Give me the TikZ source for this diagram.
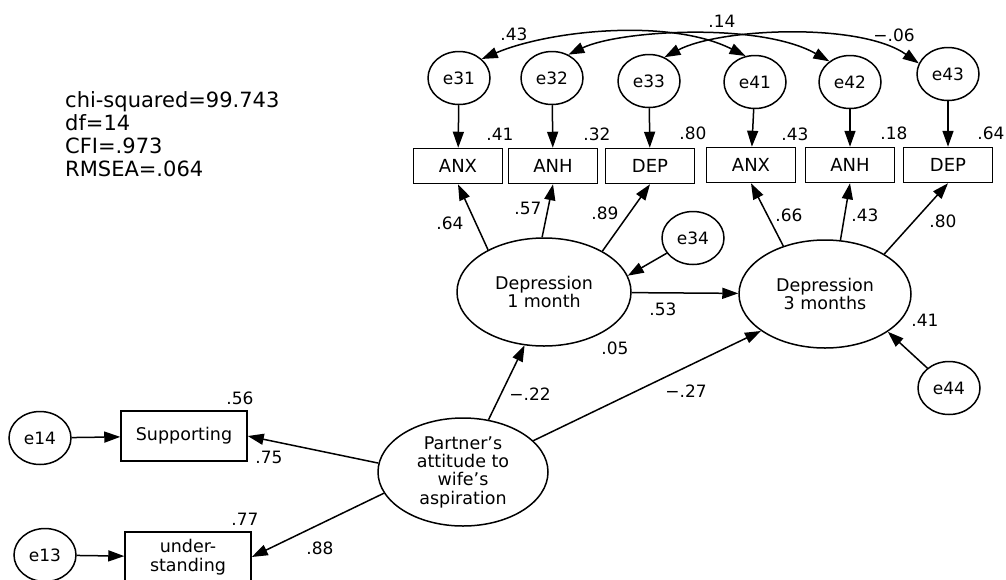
\documentclass[tikz,border=0pt]{standalone}
\usepackage{fontspec}
\setmainfont{DejaVu Sans}
\usetikzlibrary{shapes.geometric,arrows.meta}

\begin{document}
\begin{tikzpicture}[x=1pt,y=-1pt,
  lw/.style={line width=1.5pt},
  errv/.style={ellipse, draw, lw, minimum width=62pt, minimum height=53pt,
    inner sep=0pt, font=\fontsize{17}{18}\selectfont},
  latent/.style={ellipse, draw, lw, inner sep=0pt, align=center,
    font=\fontsize{17.5}{18}\selectfont},
  obs/.style={rectangle, draw, lw, minimum width=89pt, minimum height=35pt,
    inner sep=0pt, font=\fontsize{18}{19}\selectfont},
  reg/.style={lw, -{Triangle[length=16pt,width=11pt]}},
  cov/.style={lw, {Triangle[length=16pt,width=11pt]}-{Triangle[length=16pt,width=11pt]}},
  coef/.style={font=\fontsize{17}{17}\selectfont, inner sep=0pt},
  stat/.style={font=\fontsize{21}{23}\selectfont, inner sep=0pt, anchor=base west}
]
\clip (0,0) rectangle (1006,579);
\fill[white] (0,0) rectangle (1006,579);

% fit statistics
\node[stat] (s1) at (65,107) {chi-squared=99.743};
\node[stat] (s2) at (65,130) {df=14};
\node[stat] (s3) at (65,153) {CFI=.973};
\node[stat] (s4) at (65,176) {RMSEA=.064};

% error terms of the indicators
\node[errv] (e31) at (459,78) {e31};
\node[errv] (e32) at (552,78) {e32};
\node[errv] (e33) at (649,81) {e33};
\node[errv] (e41) at (755,82) {e41};
\node[errv] (e42) at (850,82) {e42};
\node[errv] (e43) at (948,74) {e43};

% indicators
\node[obs] (anx1) at (458,166) {ANX};
\node[obs] (anh1) at (553,166) {ANH};
\node[obs] (dep1) at (650,166) {DEP};
\node[obs] (anx2) at (751,165) {ANX};
\node[obs] (anh2) at (850,165) {ANH};
\node[obs] (dep2) at (948,165) {DEP};

% latent variables
\node[latent, minimum width=174pt, minimum height=108pt] (d1) at (544,292) {Depression\\1 month};
\node[latent, minimum width=172pt, minimum height=108pt] (d2) at (825,294) {Depression\\3 months};
\node[latent, minimum width=170pt, minimum height=108pt, font=\fontsize{17.5}{18.3}\selectfont] (pa) at (463,472)
  {Partner’s\\attitude to\\wife’s\\aspiration};
\node[errv] (e34) at (693,238) {e34};
\node[errv] (e44) at (949,388) {e44};

% partner indicators
\node[obs, minimum width=126pt, minimum height=50pt, font=\fontsize{17.5}{19}\selectfont] (sup) at (184,436) {Supporting};
\node[obs, minimum width=126pt, minimum height=50pt, align=center, font=\fontsize{17.5}{19}\selectfont] (und) at (188,557) {under-\\standing};
\node[errv] (e14) at (40,438) {e14};
\node[errv] (e13) at (45,555) {e13};

% error paths
\draw[reg] (e31) -- (anx1);
\draw[reg] (e32) -- (anh1);
\draw[reg] (e33) -- (dep1);
\draw[reg] (e41) -- (anx2);
\draw[reg] (e42) -- (anh2);
\draw[reg] (e43) -- (dep2);
\draw[reg] (e34) -- (d1.11);
\draw[reg] (e44) -- (d2.-31);
\draw[reg] (e14) -- (sup);
\draw[reg] (e13) -- (und);

% loadings
\draw[reg] (d1.143) -- (anx1.south);
\draw[reg] (d1.92) -- (anh1.south);
\draw[reg] (d1.35) -- (dep1.south);
\draw[reg] (d2.131) -- (anx2.south);
\draw[reg] (d2.74) -- (anh2.south);
\draw[reg] (d2.34) -- (dep2.south);
\draw[reg] (pa.174) -- (sup.east);
\draw[reg] (pa.195) -- (und.east);

% structural paths
\draw[reg] (d1) -- (d2);
\draw[reg] (pa.64) -- (d1.250);
\draw[reg] (pa.24) -- (d2.210);

% error covariances
\draw[cov] (e31.40) .. controls (550,30) and (670,18) .. (e41.110);
\draw[cov] (e32.55) .. controls (620,30) and (760,22) .. (e42.135);
\draw[cov] (e33.57) .. controls (720,28) and (860,22) .. (e43.160);

% coefficients
\node[coef] (c1) at (514,34) {.43};
\node[coef] (c2) at (722,21) {.14};
\node[coef] (c3) at (894,35) {−.06};
\node[coef] (r1) at (500,134) {.41};
\node[coef] (r2) at (597,134) {.32};
\node[coef] (r3) at (693,133) {.80};
\node[coef] (r4) at (795,134) {.43};
\node[coef] (r5) at (894,133) {.18};
\node[coef] (r6) at (991,133) {.64};
\node[coef] (l1) at (450,223) {.64};
\node[coef] (l2) at (528,208) {.57};
\node[coef] (l3) at (605,213) {.89};
\node[coef] (l4) at (789,215) {.66};
\node[coef] (l5) at (865,215) {.43};
\node[coef] (l6) at (943,221) {.80};
\node[coef] (b1) at (663,309) {.53};
\node[coef] (q1) at (615,348) {.05};
\node[coef] (q2) at (925,320) {.41};
\node[coef] (b2) at (530,394) {−.22};
\node[coef] (b3) at (686,391) {−.27};
\node[coef] (q3) at (240,398) {.56};
\node[coef] (l7) at (269,457) {.75};
\node[coef] (q4) at (245,519) {.77};
\node[coef] (l8) at (320,548) {.88};
\end{tikzpicture}
\end{document}
